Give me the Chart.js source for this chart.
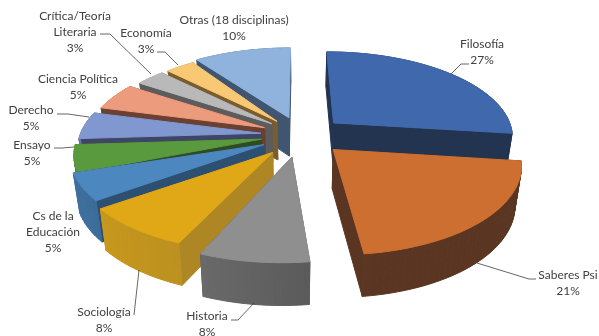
<!DOCTYPE html>
<html lang="es">
<head>
  <meta charset="UTF-8">
  <title>Disciplinas</title>
  <script src="https://cdn.jsdelivr.net/npm/chart.js"></script>
  <style>
    html, body { margin: 0; padding: 0; background: #fff; }
    canvas { display: block; }
  </style>
</head>
<body>
  <canvas id="grafico" width="599" height="336"></canvas>
  <script>
    const categorias = ['Filosofía', 'Saberes Psi', 'Historia', 'Sociología', 'Cs de la Educación', 'Ensayo', 'Derecho', 'Ciencia Política', 'Crítica/Teoría Literaria', 'Economía', 'Otras (18 disciplinas)'];
    const porcentajes = [27, 21, 8, 8, 5, 5, 5, 5, 3, 3, 10];

    const coloresTapa = ['#4068ad', '#ce6f32', '#8f8f8f', '#e0a816', '#4c88bf', '#5a9a3f', '#8097cf', '#ec9b7c', '#b9b9b9', '#f9c874', '#8fb3dc'];
    const coloresLado = ['#233450', '#5a3622', '#5a5a5a', '#ae8724', '#2c4f72', '#2f4b24', '#3f4566', '#6a4030', '#5c5c5c', '#7b5c2c', '#3f5570'];

    // texto de cada etiqueta: [lineas], centro x, y de la primera linea
    const etiquetas = [
      [['Filosofía', '27%'], 482, 44],
      [['Saberes Psi', '21%'], 568, 275],
      [['Historia', '8%'], 207, 316],
      [['Sociología', '8%'], 104, 312],
      [['Cs de la', 'Educación', '5%'], 53, 216],
      [['Ensayo', '5%'], 32, 145],
      [['Derecho', '5%'], 31, 110],
      [['Ciencia Política', '5%'], 78, 79],
      [['Crítica/Teoría', 'Literaria', '3%'], 75, 16],
      [['Economía', '3%'], 146, 33],
      [['Otras (18 disciplinas)', '10%'], 234, 20]
    ];
    const guias = [
      [[469, 64], [461, 64], [451, 74]],
      [[536, 279], [529, 279], [477, 263]],
      [[231, 320], [238, 320], [254, 303]],
      [[134, 315], [139, 270]],
      null,
      [[54, 148], [62, 148], [74, 147]],
      [[57, 114], [68, 114], [89, 117]],
      null,
      [[100, 34], [110, 34], [151, 74]],
      [[157, 52], [165, 52], [178, 65]],
      null
    ];

    // proyeccion del disco en perspectiva
    const centroX = 301, centroY = 135, escalaX = 183, escalaY = 85;
    const perspectiva = 0.15, separacion = 0.22, grosor = 39;

    // correccion en px de cada porcion: fija (vertice) y proporcional al radio
    const ajusteVertice = [[3, 0], [3, 1], [-4, 3], [-4, 2], [-2, 0], [0, 0], [0, 0], [0, 0], [2, 0], [2, 0], [0, 0]];
    const ajusteRadio = [[-3, 0], [-2, 0], [-9, -2], [-9, -7], [-5, -6], [0, 0], [2, 0], [4, 0], [6, 0], [7, 0], [0, 0]];

    function proyectar(x, y, abajo) {
      const k = 1 / (1 + perspectiva * y);
      const h = abajo ? grosor * (1 - 0.08 * y) : 0;
      const conv = abajo ? 0.97 : 1;
      return [centroX + escalaX * x * k * conv, centroY - escalaY * y * k + h];
    }

    function mezclar(a, b, t) {
      const pa = [1, 3, 5].map(i => parseInt(a.substr(i, 2), 16));
      const pb = [1, 3, 5].map(i => parseInt(b.substr(i, 2), 16));
      return 'rgb(' + pa.map((v, i) => Math.round(v + (pb[i] - v) * t)).join(',') + ')';
    }

    function cuad(ctx, p, color) {
      ctx.fillStyle = color;
      ctx.strokeStyle = color;
      ctx.lineWidth = 1;
      ctx.beginPath();
      p.forEach((q, i) => i ? ctx.lineTo(q[0], q[1]) : ctx.moveTo(q[0], q[1]));
      ctx.closePath();
      ctx.fill();
      ctx.stroke();
    }

    const pie3d = {
      id: 'pie3d',
      afterDatasetsDraw(chart) {
        const ctx = chart.ctx;
        const arcos = chart.getDatasetMeta(0).data;
        const porcion = arcos.map((arco, i) => {
          const ini = arco.startAngle + Math.PI / 2, fin = arco.endAngle + Math.PI / 2;
          const medio = (ini + fin) / 2;
          return { i, ini, fin, ox: separacion * Math.sin(medio), oy: separacion * Math.cos(medio) };
        });
        // de atras hacia adelante
        porcion.sort((a, b) => b.oy - a.oy);

        porcion.forEach(s => {
          const tapa = coloresTapa[s.i], lado = coloresLado[s.i];
          const av = ajusteVertice[s.i], ar = ajusteRadio[s.i];
          const pt = (t, r, abajo) => {
            const q = proyectar(s.ox + r * Math.sin(t), s.oy + r * Math.cos(t), abajo);
            return [q[0] + av[0] + ar[0] * r, q[1] + av[1] + ar[1] * r];
          };
          const n = Math.max(4, Math.round((s.fin - s.ini) * 30));

          // caras: radiales y pared exterior, ordenadas por profundidad
          const caras = [];
          [s.ini, s.fin].forEach(t => caras.push({
            y: s.oy + 0.5 * Math.cos(t),
            p: [pt(t, 0, false), pt(t, 1, false), pt(t, 1, true), pt(t, 0, true)],
            c: lado
          }));
          for (let j = 0; j < n; j++) {
            const a = s.ini + (s.fin - s.ini) * j / n, b = s.ini + (s.fin - s.ini) * (j + 1) / n;
            const m = (a + b) / 2;
            const luz = Math.min(0.6, Math.max(0, (-Math.sin(m) + 0.15) * 0.55));
            caras.push({
              y: s.oy + Math.cos(m),
              p: [pt(a, 1, false), pt(b, 1, false), pt(b, 1, true), pt(a, 1, true)],
              c: mezclar(lado, tapa, luz)
            });
          }
          caras.sort((a, b) => b.y - a.y).forEach(f => cuad(ctx, f.p, f.c));

          const borde = [pt(s.ini, 0, false)];
          for (let j = 0; j <= n * 2; j++) borde.push(pt(s.ini + (s.fin - s.ini) * j / (n * 2), 1, false));
          cuad(ctx, borde, tapa);
        });

        // lineas guia
        ctx.strokeStyle = '#404040';
        ctx.lineWidth = 0.8;
        guias.forEach(g => {
          if (!g) return;
          ctx.beginPath();
          g.forEach((q, i) => i ? ctx.lineTo(q[0], q[1]) : ctx.moveTo(q[0], q[1]));
          ctx.stroke();
        });

        // etiquetas
        ctx.fillStyle = '#404040';
        ctx.font = '12px Lato';
        ctx.textAlign = 'center';
        ctx.textBaseline = 'middle';
        etiquetas.forEach(e => {
          e[0].forEach((linea, i) => ctx.fillText(linea, e[1], e[2] + i * 16));
        });
      }
    };

    new Chart(document.getElementById('grafico'), {
      type: 'pie',
      data: {
        labels: categorias,
        datasets: [{ data: porcentajes, backgroundColor: 'rgba(0,0,0,0)', borderWidth: 0 }]
      },
      options: {
        responsive: false,
        animation: false,
        rotation: 0,
        plugins: { legend: { display: false }, tooltip: { enabled: false } }
      },
      plugins: [pie3d]
    });
  </script>
</body>
</html>
